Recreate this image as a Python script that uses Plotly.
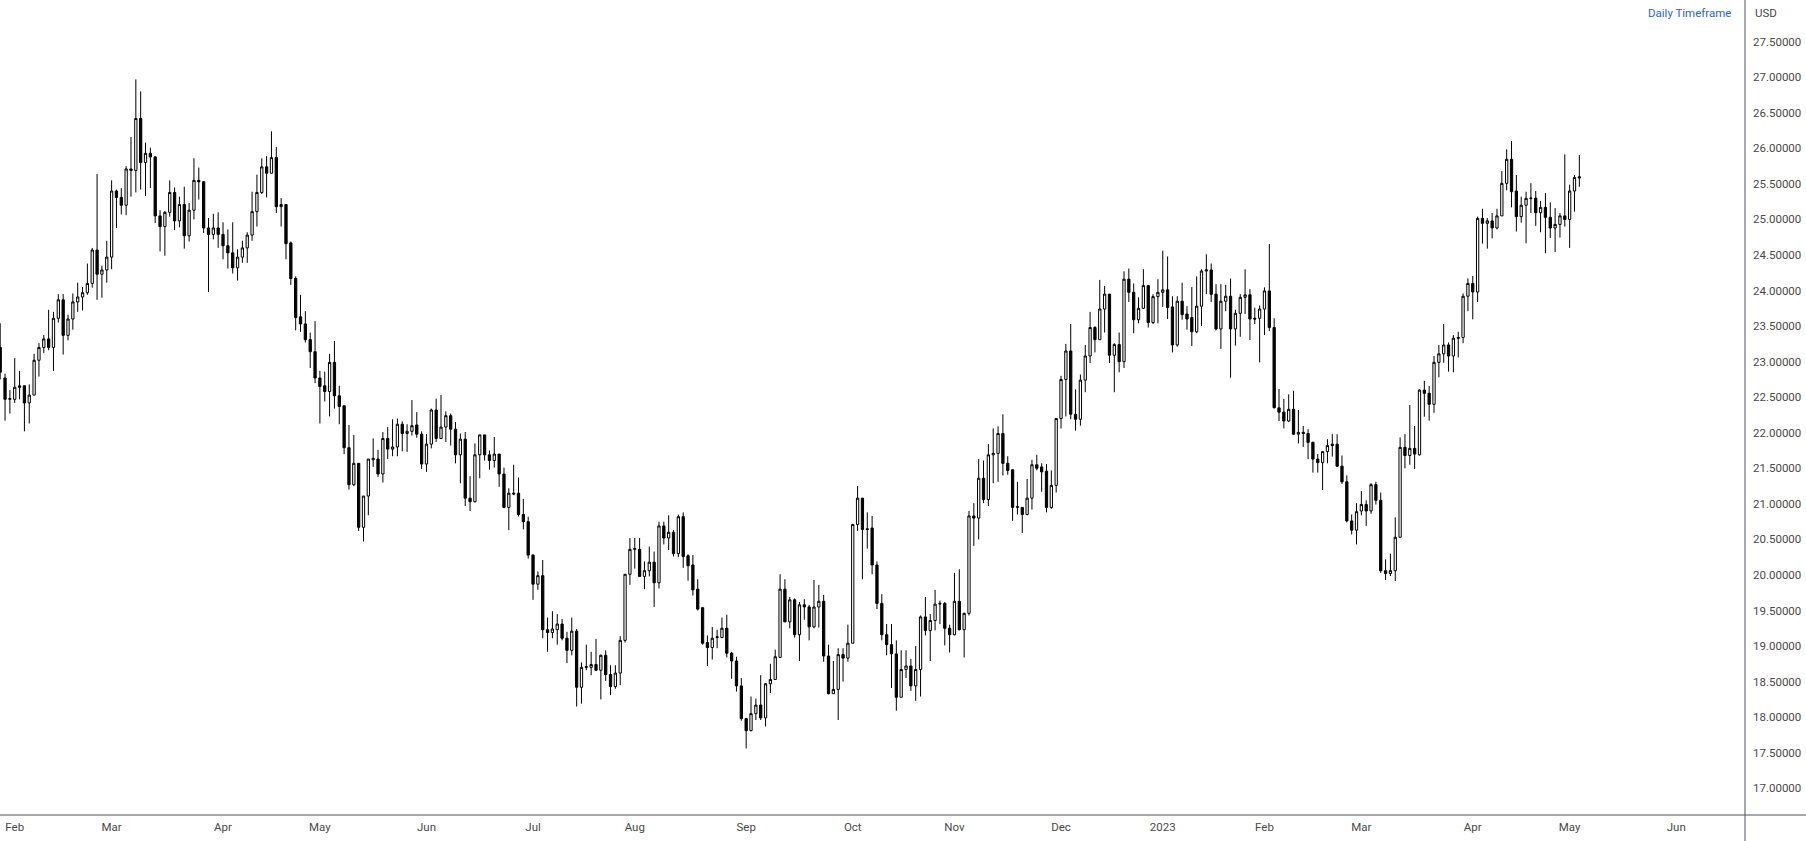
import pandas as pd
import plotly.graph_objects as go

# ---- data (XAGUSD daily) ----
open_ = [
    23.20, 22.77, 22.47, 22.47, 22.66, 22.66, 22.42, 22.53, 23.02, 23.20,
    23.32, 23.20, 23.61, 23.87, 23.37, 23.60, 23.84, 23.91, 23.97, 24.10,
    24.57, 24.23, 24.29, 24.47, 25.40, 25.31, 25.20, 25.71, 25.69, 26.42,
    25.80, 25.93, 25.88, 25.05, 24.90, 25.10, 25.38, 24.98, 25.21, 24.77,
    25.13, 25.55, 25.53, 24.88, 24.79, 24.88, 24.79, 24.63, 24.53, 24.32,
    24.47, 24.60, 24.78, 25.11, 25.38, 25.74, 25.65, 25.87, 25.18, 25.21,
    24.67, 24.17, 23.63, 23.53, 23.31, 23.14, 22.77, 22.66, 22.58, 22.99,
    22.52, 22.38, 21.79, 21.27, 21.57, 20.67, 21.11, 21.62, 21.63, 21.42,
    21.92, 21.77, 21.80, 22.12, 21.99, 22.02, 22.11, 21.98, 21.56, 21.84,
    22.32, 21.92, 22.08, 22.24, 22.05, 21.69, 21.91, 21.08, 21.03, 21.69,
    21.97, 21.69, 21.61, 21.70, 21.42, 20.95, 21.15, 21.15, 20.85, 20.75,
    20.28, 19.87, 19.99, 19.23, 19.19, 19.23, 19.31, 19.11, 18.94, 19.21,
    18.42, 18.70, 18.70, 18.74, 18.66, 18.87, 18.60, 18.43, 18.62, 19.08,
    20.01, 20.36, 20.36, 19.98, 20.06, 20.18, 19.89, 20.69, 20.52, 20.60,
    20.30, 20.82, 20.27, 20.14, 19.80, 19.54, 19.05, 18.98, 19.12, 19.12,
    19.25, 18.90, 18.79, 18.44, 17.98, 17.81, 18.05, 18.17, 17.99, 18.47,
    18.53, 18.84, 19.80, 19.34, 19.65, 19.16, 19.58, 19.55, 19.27, 19.55,
    19.63, 18.86, 18.33, 18.39, 18.88, 18.83, 19.04, 20.71, 21.08, 20.65,
    20.66, 20.14, 19.60, 19.16, 19.02, 18.89, 18.28, 18.67, 18.72, 18.44,
    18.67, 19.41, 19.22, 19.36, 19.59, 19.60, 19.25, 19.16, 19.63, 19.23,
    19.46, 20.83, 20.80, 21.36, 21.06, 21.69, 21.71, 21.99, 21.57, 21.48,
    20.95, 20.95, 20.85, 21.08, 21.55, 21.52, 21.46, 20.95, 21.26, 22.20,
    22.75, 23.15, 22.26, 22.19, 22.74, 23.08, 23.48, 23.31, 23.74, 23.95,
    23.09, 23.24, 23.00, 24.16, 23.975, 23.59, 23.75, 24.07, 23.55, 23.915,
    23.975, 24.01, 23.77, 23.235, 23.85, 23.67, 23.62, 23.42, 23.78, 24.275,
    24.29, 23.95, 23.46, 23.85, 23.92, 23.46, 23.68, 23.905, 23.94, 23.61,
    23.61, 23.74, 23.995, 23.48, 22.35, 22.29, 22.165, 22.33, 21.98, 22.006,
    21.99, 21.865, 21.63, 21.58, 21.735, 21.84, 21.84, 21.53, 21.31, 20.76,
    20.63, 20.90, 20.99, 20.90, 21.27, 21.05, 20.06, 20.02, 20.06, 20.53,
    21.795, 21.68, 21.78, 21.69, 22.60, 22.555, 22.40, 22.99, 23.11, 23.235,
    23.08, 23.34, 23.34, 23.92, 24.10, 23.98, 25.016, 24.945, 24.98, 24.88,
    25.05, 25.508, 25.846, 25.40, 25.04, 25.20, 25.295, 25.30, 25.095, 25.17,
    25.03, 24.88, 24.93, 25.05, 25.00, 25.40, 25.60,
]
high = [
    23.54, 22.83, 22.60, 23.05, 22.87, 22.67, 22.68, 23.11, 23.26, 23.375,
    23.73, 23.70, 23.95, 23.95, 23.66, 23.96, 24.11, 24.05, 24.38, 24.60,
    25.64, 24.35, 24.70, 25.55, 25.42, 25.44, 25.75, 26.16, 26.97, 26.80,
    26.08, 26.01, 25.89, 25.13, 25.12, 25.55, 25.45, 25.32, 25.46, 25.23,
    25.86, 25.73, 25.54, 25.02, 25.08, 25.10, 24.96, 24.86, 24.96, 24.58,
    24.70, 24.82, 25.39, 25.63, 25.86, 25.89, 26.24, 26.02, 25.30, 25.21,
    24.69, 24.20, 23.94, 23.71, 23.41, 23.57, 22.87, 22.86, 23.11, 23.29,
    22.66, 22.38, 22.11, 21.97, 21.57, 21.11, 21.63, 21.92, 21.76, 22.01,
    22.08, 22.19, 22.20, 22.16, 22.12, 22.46, 22.29, 22.02, 21.98, 22.34,
    22.48, 22.53, 22.30, 22.27, 22.15, 21.99, 22.01, 21.39, 21.85, 21.97,
    21.97, 21.75, 21.94, 21.70, 21.51, 21.22, 21.55, 21.37, 21.07, 20.82,
    20.29, 20.05, 20.21, 19.40, 19.49, 19.45, 19.38, 19.20, 19.40, 19.24,
    18.77, 19.02, 18.92, 19.10, 18.88, 18.94, 18.73, 18.73, 19.14, 20.01,
    20.52, 20.52, 20.52, 20.19, 20.40, 20.33, 20.75, 20.75, 20.84, 20.63,
    20.85, 20.88, 20.29, 20.28, 19.94, 19.54, 19.15, 19.27, 19.23, 19.40,
    19.44, 18.92, 18.85, 18.55, 17.99, 18.29, 18.26, 18.59, 18.48, 18.75,
    18.95, 20.01, 19.94, 19.69, 19.67, 19.62, 19.66, 19.58, 19.93, 19.86,
    19.72, 19.02, 18.79, 18.97, 18.97, 19.30, 20.72, 21.25, 21.08, 20.88,
    20.83, 20.19, 19.73, 19.31, 19.31, 19.08, 18.94, 18.94, 18.82, 19.00,
    19.43, 19.69, 19.45, 19.79, 19.64, 19.62, 19.30, 20.03, 20.08, 19.47,
    20.90, 21.01, 21.63, 21.61, 21.84, 22.06, 22.09, 22.26, 21.67, 21.48,
    21.31, 20.95, 21.35, 21.62, 21.69, 21.57, 21.56, 21.47, 22.20, 22.80,
    23.25, 23.53, 22.61, 22.82, 23.235, 23.70, 23.50, 24.15, 24.065, 23.95,
    23.26, 23.41, 24.27, 24.31, 24.10, 23.905, 24.30, 24.08, 23.95, 24.16,
    24.56, 24.48, 23.92, 23.92, 24.11, 23.78, 24.05, 24.20, 24.30, 24.51,
    24.38, 24.09, 24.09, 24.08, 24.17, 23.73, 23.95, 24.30, 24.02, 23.76,
    23.79, 24.045, 24.655, 23.61, 22.615, 22.475, 22.54, 22.59, 22.32, 22.095,
    22.05, 21.875, 21.70, 21.735, 21.91, 21.98, 21.98, 21.68, 21.40, 20.85,
    21.01, 21.18, 21.05, 21.29, 21.31, 21.16, 20.22, 20.30, 20.81, 21.935,
    21.98, 22.39, 22.095, 22.61, 22.73, 22.66, 23.08, 23.235, 23.53, 23.27,
    23.375, 23.42, 23.96, 24.17, 24.205, 25.04, 25.15, 25.02, 25.09, 25.15,
    25.68, 25.986, 26.103, 25.625, 25.32, 25.39, 25.51, 25.40, 25.26, 25.37,
    25.24, 25.16, 25.09, 25.916, 25.49, 25.625, 25.906,
]
low = [
    22.75, 22.17, 22.27, 22.42, 22.47, 22.02, 22.13, 22.53, 22.79, 23.12,
    23.16, 22.87, 23.55, 23.10, 23.30, 23.45, 23.70, 23.72, 23.94, 24.04,
    23.87, 23.90, 24.11, 24.30, 24.88, 25.07, 25.06, 25.32, 25.38, 25.42,
    25.33, 25.44, 24.95, 24.55, 24.49, 25.04, 24.85, 24.89, 24.59, 24.69,
    25.00, 25.28, 24.81, 23.98, 24.72, 24.60, 24.44, 24.31, 24.24, 24.14,
    24.39, 24.39, 24.70, 24.90, 25.36, 25.31, 25.65, 25.09, 24.90, 24.44,
    24.08, 23.44, 23.42, 23.27, 22.91, 22.70, 22.13, 22.44, 22.23, 22.34,
    22.12, 21.70, 21.20, 21.25, 20.62, 20.47, 20.84, 21.52, 21.38, 21.30,
    21.63, 21.67, 21.67, 21.74, 21.73, 21.96, 21.93, 21.49, 21.45, 21.78,
    21.87, 21.91, 21.87, 21.82, 21.57, 21.29, 20.97, 20.90, 21.02, 21.36,
    21.61, 21.48, 21.51, 21.24, 20.94, 20.63, 21.12, 20.82, 20.64, 20.23,
    19.65, 19.79, 19.11, 18.92, 19.11, 19.02, 19.08, 18.76, 18.87, 18.15,
    18.19, 18.66, 18.59, 18.65, 18.25, 18.51, 18.31, 18.40, 18.45, 19.05,
    19.86, 20.09, 19.97, 19.80, 19.98, 19.55, 19.81, 20.43, 20.35, 20.26,
    20.25, 20.10, 19.92, 19.71, 19.50, 19.02, 18.72, 18.81, 18.97, 19.11,
    18.84, 18.54, 18.36, 17.95, 17.56, 17.80, 17.96, 17.96, 17.87, 18.34,
    18.53, 18.84, 19.34, 19.25, 19.12, 18.79, 19.37, 19.08, 19.25, 19.26,
    18.78, 18.32, 18.33, 17.96, 18.50, 18.78, 19.04, 20.62, 19.94, 20.37,
    20.01, 19.52, 19.08, 18.87, 18.41, 18.09, 18.28, 18.55, 18.37, 18.23,
    18.29, 19.15, 18.79, 19.22, 19.31, 19.01, 18.91, 19.15, 19.22, 18.84,
    19.43, 20.41, 20.50, 21.01, 20.97, 21.29, 21.31, 21.40, 21.41, 20.76,
    20.85, 20.59, 20.84, 20.92, 21.47, 21.17, 20.88, 20.93, 21.16, 22.06,
    22.23, 22.19, 22.03, 22.10, 22.57, 22.98, 23.13, 23.31, 23.41, 22.98,
    22.57, 22.85, 22.91, 23.84, 23.40, 23.54, 23.74, 23.48, 23.53, 23.54,
    23.77, 23.60, 23.13, 23.21, 23.59, 23.45, 23.22, 23.40, 23.50, 23.95,
    23.84, 23.44, 23.18, 23.71, 22.775, 23.225, 23.35, 23.67, 23.305, 23.53,
    22.99, 23.375, 23.43, 22.34, 22.165, 22.06, 22.15, 21.97, 21.85, 21.80,
    21.63, 21.44, 21.44, 21.195, 21.57, 21.665, 21.52, 21.28, 20.74, 20.57,
    20.43, 20.84, 20.69, 20.86, 20.99, 20.03, 19.93, 19.985, 19.915, 20.53,
    21.50, 21.55, 21.49, 21.68, 22.226, 22.17, 22.28, 22.78, 22.985, 22.86,
    22.85, 23.06, 23.26, 23.71, 23.595, 23.84, 24.66, 24.59, 24.735, 24.86,
    25.05, 25.41, 25.17, 24.83, 24.955, 24.665, 25.09, 24.91, 24.82, 24.525,
    24.74, 24.54, 24.745, 24.90, 24.60, 25.11, 25.46,
]
close = [
    22.85, 22.47, 22.48, 22.64, 22.64, 22.42, 22.53, 23.02, 23.20, 23.32,
    23.20, 23.61, 23.87, 23.37, 23.60, 23.84, 23.91, 23.97, 24.10, 24.57,
    24.23, 24.29, 24.47, 25.40, 25.31, 25.20, 25.71, 25.69, 26.42, 25.80,
    25.93, 25.88, 25.05, 24.90, 25.10, 25.38, 24.98, 25.21, 24.77, 25.13,
    25.55, 25.53, 24.88, 24.79, 24.88, 24.79, 24.63, 24.53, 24.32, 24.47,
    24.60, 24.78, 25.11, 25.38, 25.74, 25.65, 25.87, 25.18, 25.21, 24.66,
    24.17, 23.62, 23.53, 23.31, 23.14, 22.77, 22.65, 22.58, 22.99, 22.52,
    22.37, 21.79, 21.27, 21.57, 20.67, 21.11, 21.63, 21.64, 21.42, 21.92,
    21.77, 21.80, 22.12, 21.99, 22.02, 22.10, 21.98, 21.56, 21.84, 22.32,
    21.92, 22.08, 22.24, 22.05, 21.69, 21.91, 21.08, 21.03, 21.69, 21.97,
    21.69, 21.61, 21.70, 21.42, 20.95, 21.15, 21.14, 20.85, 20.75, 20.28,
    19.87, 19.99, 19.23, 19.19, 19.24, 19.31, 19.11, 18.94, 19.21, 18.42,
    18.70, 18.71, 18.74, 18.66, 18.87, 18.60, 18.43, 18.62, 19.08, 20.01,
    20.36, 20.37, 19.98, 20.06, 20.18, 19.89, 20.69, 20.52, 20.60, 20.30,
    20.82, 20.26, 20.13, 19.79, 19.52, 19.04, 18.98, 19.11, 19.13, 19.25,
    18.90, 18.79, 18.44, 17.98, 17.81, 18.05, 18.17, 17.99, 18.47, 18.53,
    18.85, 19.80, 19.34, 19.65, 19.16, 19.58, 19.55, 19.27, 19.55, 19.63,
    18.86, 18.33, 18.39, 18.88, 18.83, 19.04, 20.71, 21.08, 20.64, 20.64,
    20.14, 19.60, 19.16, 19.02, 18.89, 18.28, 18.67, 18.72, 18.44, 18.67,
    19.41, 19.22, 19.36, 19.59, 19.60, 19.25, 19.16, 19.63, 19.23, 19.46,
    20.83, 20.80, 21.36, 21.06, 21.69, 21.71, 21.99, 21.57, 21.47, 20.95,
    20.96, 20.85, 21.08, 21.55, 21.50, 21.45, 20.95, 21.26, 22.20, 22.75,
    23.15, 22.26, 22.19, 22.74, 23.08, 23.48, 23.31, 23.74, 23.95, 23.09,
    23.24, 23.00, 24.16, 23.975, 23.59, 23.75, 24.07, 23.55, 23.915, 23.975,
    24.01, 23.76, 23.235, 23.85, 23.66, 23.60, 23.42, 23.78, 24.275, 24.29,
    23.947, 23.46, 23.85, 23.92, 23.46, 23.68, 23.905, 23.94, 23.60, 23.60,
    23.74, 23.995, 23.48, 22.353, 22.29, 22.165, 22.33, 21.98, 22.005, 21.99,
    21.865, 21.63, 21.58, 21.735, 21.82, 21.82, 21.53, 21.31, 20.76, 20.63,
    20.89, 20.99, 20.90, 21.27, 21.05, 20.06, 20.02, 20.06, 20.53, 21.795,
    21.68, 21.78, 21.70, 22.60, 22.555, 22.40, 22.99, 23.11, 23.235, 23.08,
    23.33, 23.33, 23.92, 24.10, 23.98, 25.016, 24.945, 24.98, 24.88, 25.05,
    25.508, 25.846, 25.39, 25.04, 25.20, 25.297, 25.30, 25.095, 25.17, 25.03,
    24.88, 24.93, 25.05, 25.00, 25.40, 25.59, 25.585,
]

# trading calendar (weekdays minus market holidays)
start_date = "2022-01-27"
calendar_end = "2023-06-30"
holidays = ["2022-04-15", "2022-12-26", "2023-01-02", "2023-05-29"]
month_starts = pd.date_range("2022-02-01", "2023-06-01", freq="MS")
month_labels = ["Feb", "Mar", "Apr", "May", "Jun", "Jul", "Aug", "Sep", "Oct",
                "Nov", "Dec", "2023", "Feb", "Mar", "Apr", "May", "Jun"]
price_ticks = [17.0 + 0.5 * k for k in range(22)]

cal = pd.bdate_range(start_date, calendar_end)
cal = cal[~cal.isin(pd.to_datetime(holidays))]
n = len(close)
dates = cal[:n]
xs = list(range(n))
tick_pos = [int(cal.searchsorted(m)) for m in month_starts]

AXIS = "#50535e"
TXT = "#4a4a4a"
FONT = "Roboto"

fig = go.Figure(go.Candlestick(
    x=xs, open=open_, high=high, low=low, close=close,
    text=[d.strftime("%Y-%m-%d") for d in dates],
    increasing=dict(line=dict(color="#000000", width=1), fillcolor="#ffffff"),
    decreasing=dict(line=dict(color="#000000", width=1), fillcolor="#000000"),
    whiskerwidth=0,
    showlegend=False,
))

W, H = 1806, 841
ML, MR, MT, MB = 0, 61, 0, 26
plot_w = W - ML - MR
plot_h = H - MT - MB

fig.update_layout(
    width=W, height=H,
    margin=dict(l=ML, r=MR, t=MT, b=MB, pad=0),
    paper_bgcolor="#ffffff", plot_bgcolor="#ffffff",
    boxgap=0.33,
    font=dict(family=FONT, size=11.5, color=TXT),
    xaxis=dict(
        range=[-0.04, 360.2], rangeslider=dict(visible=False),
        tickvals=tick_pos, ticktext=month_labels,
        showgrid=False, zeroline=False, showline=False, ticks="",
        tickfont=dict(family=FONT, size=11.5, color=TXT),
        ticklabelstandoff=3, automargin=False,
    ),
    yaxis=dict(
        side="right", range=[16.624, 28.0865],
        tickvals=price_ticks, tickformat=".5f",
        showgrid=False, zeroline=False, showline=False, ticks="",
        tickfont=dict(family=FONT, size=11.5, color=TXT),
        ticklabelstandoff=7, automargin=False,
    ),
    shapes=[
        dict(type="line", xref="paper", yref="paper", x0=0, x1=W / plot_w,
             y0=0, y1=0, line=dict(color=AXIS, width=1)),
        dict(type="line", xref="paper", yref="paper", x0=1, x1=1,
             y0=-MB / plot_h, y1=1, line=dict(color=AXIS, width=1)),
    ],
    annotations=[
        dict(text="USD", xref="paper", yref="paper", x=1, xshift=8,
             y=1 - 12.5 / plot_h, xanchor="left", yanchor="middle",
             showarrow=False, font=dict(family=FONT, size=11.5, color=TXT)),
        dict(text="Daily Timeframe", xref="paper", yref="paper",
             x=(plot_w - 12) / plot_w, y=1 - 12.5 / plot_h,
             xanchor="right", yanchor="middle", showarrow=False,
             font=dict(family=FONT, size=11.5, color="#2e62d9")),
    ],
    hovermode="x",
)

fig.write_html(
    "out.html",
    config={"displayModeBar": False},
    post_script="document.body.style.margin='0px';document.body.style.overflow='hidden';",
)
